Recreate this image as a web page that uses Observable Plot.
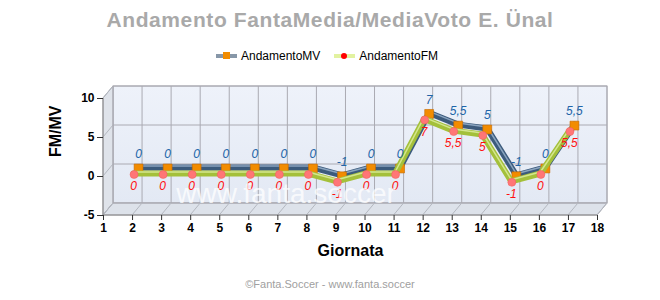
<!DOCTYPE html>
<html><head><meta charset="utf-8">
<script src="https://cdn.jsdelivr.net/npm/d3@7"></script>
<script src="https://cdn.jsdelivr.net/npm/@observablehq/plot@0.6"></script>
<style>
body{margin:0;background:#fff;font-family:"Liberation Sans",Arial,sans-serif;width:660px;height:300px;overflow:hidden}
#title{height:40px;line-height:40px;text-align:center;font-size:21px;letter-spacing:0.6px;font-weight:bold;color:#a9a9a9}
#legend{height:32px;display:flex;justify-content:center;align-items:center;font-size:12px;color:#000;padding-right:6px}
.item{display:flex;align-items:center;margin:0 7px}
.sw{position:relative;width:21px;height:4px;margin-right:4px}
.mk{position:absolute;left:7px;top:-2px;width:7px;height:7px}
#chart svg{display:block}
#caption{height:24px;line-height:24px;text-align:center;font-size:11px;color:#a0a0a0}
</style></head>
<body>
<div id="title">Andamento FantaMedia/MediaVoto E. Ünal</div>
<div id="legend">
  <div class="item"><div class="sw" style="background:#8797a8"><div class="mk" style="background:#f18c00"></div></div><span>AndamentoMV</span></div>
  <div class="item"><div class="sw" style="background:#e2f2a0"><div class="mk" style="background:#ff0000;border-radius:50%;width:6px;height:6px;left:7px;top:-1px"></div></div><span>AndamentoFM</span></div>
</div>
<div id="chart"></div>
<div id="caption">©Fanta.Soccer - www.fanta.soccer</div>
<script>
const giornate = [2,3,4,5,6,7,8,9,10,11,12,13,14,15,16,17];
const mv = [0,0,0,0,0,0,0,-1,0,0,7,5.5,5,-1,0,5.5];
const fm = [0,0,0,0,0,0,0,-1,0,0,7,5.5,5,-1,0,5.5];
const xTicks = [1,2,3,4,5,6,7,8,9,10,11,12,13,14,15,16,17,18];
const yTicks = [-5,0,5,10];
const watermark = "www.fanta.soccer";

const rows = giornate.map((g,i)=>({g, mv: mv[i], fm: fm[i],
  mvLab: String(mv[i]).replace(".", ","), fmLab: String(fm[i]).replace(".", ",")}));

const DX = 10, DY = -12;
function box(index, scales) {
  const x = scales.x, y = scales.y;
  const xa = x(xTicks[0]), xb = x(xTicks[xTicks.length-1]);
  const yb = y(yTicks[0]), yt = y(yTicks[yTicks.length-1]);
  const g = d3.create("svg:g");
  const defs = g.append("defs");
  const lg = defs.append("linearGradient").attr("id","bg").attr("x1",0).attr("y1",0).attr("x2",0).attr("y2",1);
  lg.append("stop").attr("offset","0%").attr("stop-color","#eef2fa");
  lg.append("stop").attr("offset","100%").attr("stop-color","#e3e9f4");
  g.append("rect").attr("x", xa+DX).attr("y", yt+DY).attr("width", xb-xa).attr("height", yb-yt)
    .attr("fill","url(#bg)").attr("stroke","#a8a8b0").attr("stroke-width",1);
  g.append("path").attr("d", `M${xa},${yt}L${xa+DX},${yt+DY}L${xa+DX},${yb+DY}L${xa},${yb}Z`)
    .attr("fill","#dfe3ea").attr("stroke","#a8a8b0");
  g.append("path").attr("d", `M${xa},${yb}L${xa+DX},${yb+DY}L${xb+DX},${yb+DY}L${xb},${yb}Z`)
    .attr("fill","#dde2ea").attr("stroke","#a8a8b0");
  for (const t of yTicks) {
    g.append("line").attr("x1", xa+DX).attr("x2", xb+DX).attr("y1", y(t)+DY).attr("y2", y(t)+DY)
      .attr("stroke","#aaaab2").attr("stroke-width",1);
    g.append("line").attr("x1", xa).attr("x2", xa+DX).attr("y1", y(t)).attr("y2", y(t)+DY)
      .attr("stroke","#b4b8c0").attr("stroke-width",1);
  }
  for (const t of xTicks) {
    g.append("line").attr("x1", x(t)+DX).attr("x2", x(t)+DX).attr("y1", yt+DY).attr("y2", yb+DY)
      .attr("stroke","#aaaab2").attr("stroke-width",1);
    g.append("line").attr("x1", x(t)).attr("x2", x(t)+DX).attr("y1", yb).attr("y2", yb+DY)
      .attr("stroke","#b4b8c0").attr("stroke-width",1);
  }
  g.append("line").attr("x1", xa).attr("x2", xa).attr("y1", yt).attr("y2", yb).attr("stroke","#8a8a8a");
  g.append("line").attr("x1", xa).attr("x2", xb).attr("y1", yb).attr("y2", yb).attr("stroke","#8a8a8a");
  return g.node();
}

function wm(index, scales) {
  const x = scales.x, y = scales.y;
  const g = d3.create("svg:text").attr("x", x(7.3))
    .attr("y", y(yTicks[0]) - 12).attr("text-anchor","middle")
    .attr("font-size", 28).attr("fill","#ffffff").attr("fill-opacity",0.75)
    .attr("font-family","Liberation Sans, Arial, sans-serif").text(watermark);
  return g.node();
}

const chart = Plot.plot({
  width: 660, height: 200,
  marginLeft: 103, marginRight: 63, marginTop: 26, marginBottom: 57,
  style: {fontFamily: "Liberation Sans, Arial, sans-serif", background: "transparent"},
  x: {domain: [xTicks[0], xTicks[xTicks.length-1]], axis: null},
  y: {domain: [yTicks[0], yTicks[yTicks.length-1]], axis: null},
  marks: [
    box,
    Plot.axisX({ticks: xTicks, tickSize: 5, tickPadding: 3, fontSize: 12, fontWeight: "bold", label: null, stroke: "#333", tickFormat: d => String(d)}),
    Plot.axisY({ticks: yTicks, tickSize: 6, tickPadding: 3, fontSize: 12, fontWeight: "bold", label: null, stroke: "#333", tickFormat: d => String(d)}),
    Plot.text(["Giornata"], {frameAnchor: "bottom", dy: 40, fontSize: 16, fontWeight: "bold"}),
    Plot.text(["FM/MV"], {frameAnchor: "left", dx: -48, rotate: -90, fontSize: 16, fontWeight: "bold"}),
    Plot.line(rows, {x: "g", y: "mv", stroke: "#3c5b7c", strokeWidth: 6, dx: 6, dy: -9}),
    Plot.line(rows, {x: "g", y: "mv", stroke: "#8aa4bf", strokeWidth: 1.5, dx: 6, dy: -10.5}),
    Plot.dot(rows, {x: "g", y: "mv", symbol: "square", r: 5, fill: "#f28c00", stroke: "#c66a00", strokeWidth: 0.6, dx: 6, dy: -8}),
    Plot.line(rows, {x: "g", y: "fm", stroke: "#a4c03a", strokeWidth: 6, dx: 1, dy: -3}),
    Plot.line(rows, {x: "g", y: "fm", stroke: "#d4e68e", strokeWidth: 1.5, dx: 1, dy: -4.5}),
    Plot.dot(rows, {x: "g", y: "fm", r: 4, fill: "#ff7676", stroke: "#f05a5a", strokeWidth: 0.5, dx: 1.5, dy: -2}),
    Plot.text(rows, {x: "g", y: "mv", text: "mvLab", dx: 6, dy: -22, fill: "#2064a8", fontSize: 12, fontStyle: "italic"}),
    Plot.text(rows, {x: "g", y: "fm", text: "fmLab", dx: 1, dy: 10, fill: "#ff1010", fontSize: 12, fontStyle: "italic"}),
    wm
  ]
});
document.getElementById("chart").appendChild(chart);
</script>
</body></html>
